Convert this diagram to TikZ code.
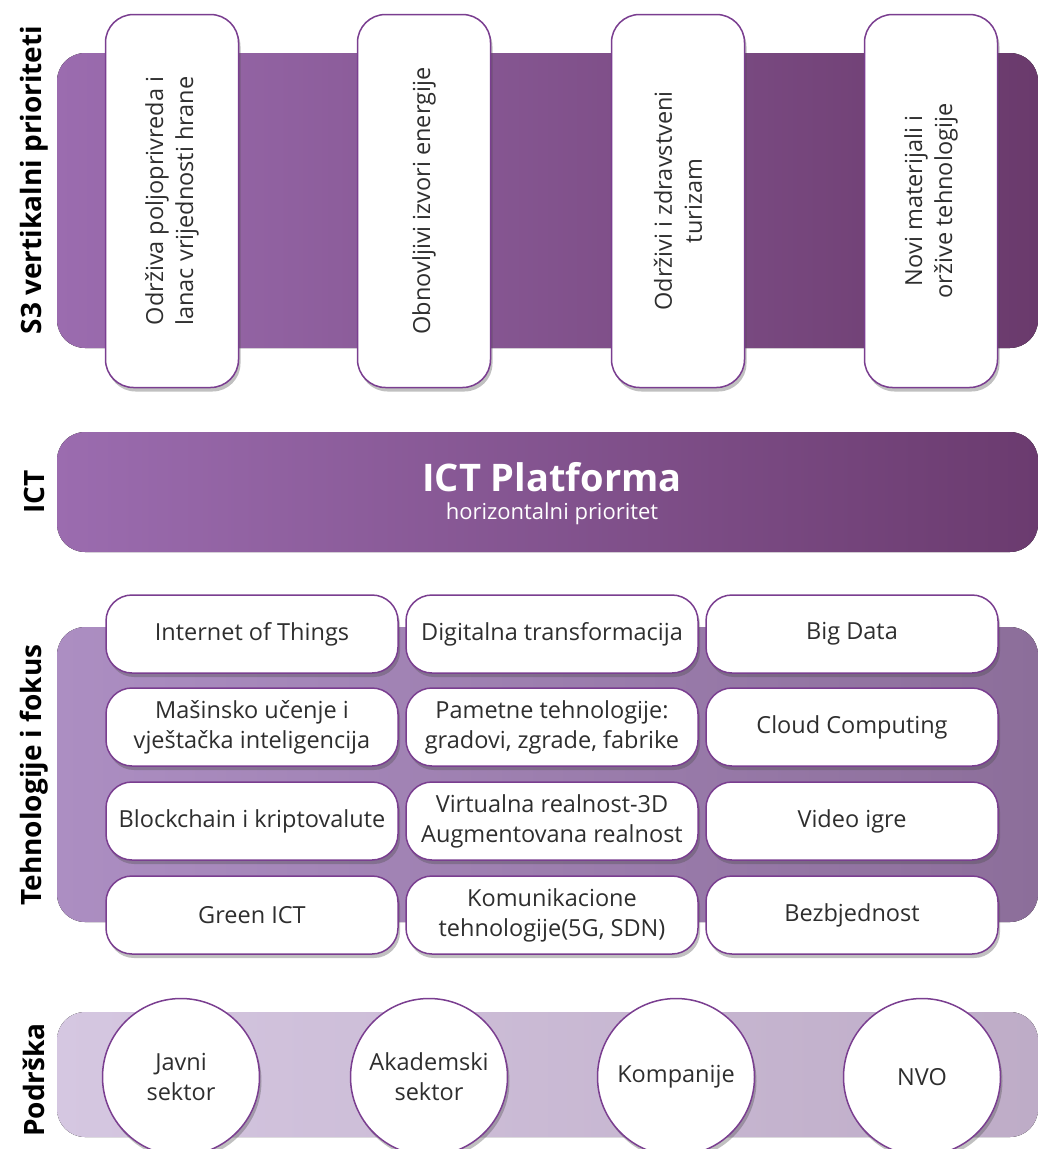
\documentclass[tikz,border=0pt]{standalone}
\usepackage{fontspec}
\setmainfont{Open Sans}
\usetikzlibrary{shadows}
\definecolor{cardline}{HTML}{7A3E90}
\definecolor{txt}{HTML}{2E2E2E}
\definecolor{sThreeL}{HTML}{9B6CAF}
\definecolor{sThreeR}{HTML}{6A3A6C}
\definecolor{ictL}{HTML}{9B6CAF}
\definecolor{ictR}{HTML}{6B3B6F}
\definecolor{tehL}{HTML}{AC8EC2}
\definecolor{tehR}{HTML}{8C6E9A}
\definecolor{podL}{HTML}{D5C7E1}
\definecolor{podR}{HTML}{BEACC7}
\tikzset{
  shad/.style={drop shadow={opacity=0.35, shadow xshift=2pt, shadow yshift=-4pt, fill=black!70}},
  card/.style={draw=cardline, line width=1.5pt, fill=white, rounded corners=28pt, shad,
    minimum width=133pt, minimum height=373pt, inner sep=0pt},
  cardtext/.style={rotate=90, align=center, text=txt, font=\fontsize{23.5}{30}\selectfont},
  techbox/.style={draw=cardline, line width=1.5pt, fill=white, rounded corners=26pt, shad,
    minimum width=292pt, minimum height=78pt, inner sep=0pt, align=center, text=txt,
    font=\fontsize{23.5}{30}\selectfont},
  circ/.style={circle, draw=cardline, line width=1.5pt, fill=white, shad,
    minimum size=157pt, inner sep=0pt, align=center, text=txt,
    font=\fontsize{23.5}{30}\selectfont},
  sidelabel/.style={rotate=90, text=black, font=\fontsize{28}{30}\selectfont\bfseries},
  band/.style={rounded corners=28pt}
}
\begin{document}
\begin{tikzpicture}[x=1pt,y=-1pt]
\useasboundingbox[fill=white] (0,0) rectangle (1038,1149);

% bands
\fill[band, left color=sThreeL, right color=sThreeR] (57,53) rectangle (1038,348);
\fill[band, left color=ictL, right color=ictR] (57,432) rectangle (1038,552);
\fill[band, left color=tehL, right color=tehR] (57,627) rectangle (1038,922);
\fill[band, left color=podL, right color=podR] (57,1012) rectangle (1038,1137);

% side labels
\node[sidelabel] (lS3) at (34,180) {S3 vertikalni prioriteti};
\node[sidelabel] (lICT) at (34,492) {ICT};
\node[sidelabel] (lTeh) at (34,775) {Tehnologije i fokus};
\node[sidelabel] (lPod) at (34,1080) {Podrška};

% vertical cards
\node[card] (c1) at (172,201) {};
\node[card] (c2) at (424,201) {};
\node[card] (c3) at (678,201) {};
\node[card] (c4) at (931,201) {};
\node[cardtext] (t1) at (c1) {Održiva poljoprivreda i\\lanac vrijednosti hrane};
\node[cardtext] (t2) at (c2) {Obnovljivi izvori energije};
\node[cardtext] (t3) at (c3) {Održivi i zdravstveni\\turizam};
\node[cardtext] (t4) at (c4) {Novi materijali i\\oržive tehnologije};

% ICT platform
\node[text=white, font=\fontsize{38}{40}\selectfont\bfseries] (ictT) at (552,477) {ICT Platforma};
\node[text=white, font=\fontsize{22}{24}\selectfont] (ictS) at (552,514) {horizontalni prioritet};

% technology grid
\node[techbox] (g11) at (252,634) {Internet of Things};
\node[techbox] (g12) at (552,634) {Digitalna transformacija};
\node[techbox] (g13) at (852,634) {Big Data};
\node[techbox] (g21) at (252,727) {Mašinsko učenje i\\vještačka inteligencija};
\node[techbox] (g22) at (552,727) {Pametne tehnologije:\\gradovi, zgrade, fabrike};
\node[techbox] (g23) at (852,727) {Cloud Computing};
\node[techbox] (g31) at (252,821) {Blockchain i kriptovalute};
\node[techbox] (g32) at (552,821) {Virtualna realnost-3D\\Augmentovana realnost};
\node[techbox] (g33) at (852,821) {Video igre};
\node[techbox] (g41) at (252,915) {Green ICT};
\node[techbox] (g42) at (552,915) {Komunikacione\\tehnologije(5G, SDN)};
\node[techbox] (g43) at (852,915) {Bezbjednost};

% support circles
\node[circ] (p1) at (181,1077) {Javni\\sektor};
\node[circ] (p2) at (429,1077) {Akademski\\sektor};
\node[circ] (p3) at (676,1077) {Kompanije};
\node[circ] (p4) at (922,1077) {NVO};
\end{tikzpicture}
\end{document}
